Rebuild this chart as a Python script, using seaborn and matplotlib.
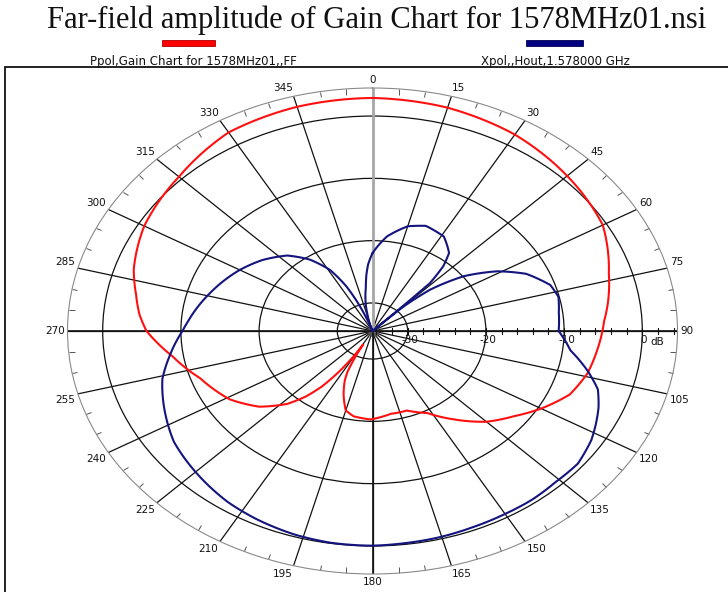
import numpy as np
import pandas as pd
import matplotlib
matplotlib.use("Agg")
import matplotlib.pyplot as plt
from matplotlib.patches import Rectangle
import seaborn as sns

sns.set_theme(style="white")
plt.rcParams["font.family"] = ["DejaVu Sans"]

# ---------------- data ----------------
title = "Far-field amplitude of Gain Chart for 1578MHz01.nsi"
ppol_label = "Ppol,Gain Chart for 1578MHz01,,FF"
xpol_label = "Xpol,,Hout,1.578000 GHz"

ppol_angle = [0, 15, 30, 45, 60, 73, 81, 87, 90, 96,
              104, 112, 120, 127, 135, 144, 152, 161, 170, 181,
              190, 195, 200, 204, 206, 208, 209, 211, 213, 216,
              219, 223, 230, 239, 251, 261, 270, 275, 281, 288,
              300, 315, 330, 345, 360]
ppol_db = [2.9, 2.6, 1.9, 0.7, -0.5, -2.9, -4.0, -4.85, -5.1, -5.6,
           -6.2, -7.3, -9.6, -11.8, -13.9, -17.0, -19.6, -21.0, -21.0, -20.3,
           -20.6, -21.3, -23.7, -25.8, -27.2, -30.0, -32.0, -29.5, -27.0, -23.5,
           -21.0, -18.5, -15.6, -13.2, -11.2, -8.6, -5.6, -4.6, -3.7, -2.4,
           -0.8, 0.5, 2.3, 2.75, 2.9]

xpol_angle = [0, 7, 15, 22, 31, 38, 41, 43.7, 44.6, 45.3,
              48, 53, 59, 65, 72, 77, 83, 90, 97, 103,
              108, 113, 118, 122, 129, 136, 143, 150, 158, 166,
              173, 180, 189, 197, 206, 214, 224, 235, 243, 254,
              261, 270, 274, 286, 300, 309, 318, 325, 331, 335,
              338, 341, 346, 348, 350, 353, 355, 357, 360]
xpol_db = [-22.0, -19.2, -17.1, -16.3, -16.8, -18.6, -20.7, -23.9, -34.5, -29.0,
           -24.6, -19.9, -15.9, -12.8, -10.6, -10.1, -10.5, -10.7, -9.0, -6.3,
           -4.2, -3.1, -2.2, -1.5, -0.7, -0.8, -0.6, -0.6, -0.5, -0.3,
           -0.2, -0.05, -0.1, -0.35, -0.85, -1.4, -2.4, -3.5, -4.8, -6.55,
           -8.2, -10.2, -10.9, -12.8, -14.9, -16.4, -18.2, -20.5, -23.3, -26.6,
           -30.3, -34.5, -32.0, -30.5, -29.3, -27.5, -25.5, -23.8, -22.0]

ring_levels = [-30, -20, -10, 0]
ring_labels = ["-30", "-20", "-10", "0"]
angle_ticks = list(range(0, 360, 15))
minor_angle_ticks = list(range(0, 360, 5))
r_min, r_max = -34.5, 4.5
axis_tick_levels = list(range(-34, 5, 2))

RED = "#ff1010"
NAVY = "#14147e"

df_p = pd.DataFrame({"theta": np.deg2rad(ppol_angle), "db": ppol_db})
df_x = pd.DataFrame({"theta": np.deg2rad(xpol_angle), "db": xpol_db})

# ---------------- figure ----------------
W, H = 728, 592
fig = plt.figure(figsize=(W / 100, H / 100), dpi=100)
fig.patch.set_facecolor("white")

cx, cy = 372.5, 331
rx, ry = 305, 243
ax = fig.add_axes([(cx - rx) / W, (H - cy - ry) / H, 2 * rx / W, 2 * ry / H],
                  projection="polar")
ax.set_theta_zero_location("N")
ax.set_theta_direction(-1)
ax.set_ylim(r_min, r_max)
ax.set_aspect("auto")
ax.set_facecolor("white")

# grid
ax.set_yticks(ring_levels)
ax.set_yticklabels([])
ax.set_xticks(np.deg2rad(angle_ticks))
ax.set_xticklabels([])
ax.set_xticks(np.deg2rad(minor_angle_ticks), minor=True)
ax.grid(True, which="major", color="#111111", lw=0.9)
ax.grid(False, which="minor")
ax.spines["polar"].set_color("#8a8a8a")
ax.spines["polar"].set_linewidth(0.8)
ax.tick_params(axis="x", which="major", length=0)
ax.tick_params(axis="x", which="minor", length=4, width=0.7, color="#555555",
               direction="in", bottom=True, top=True)
ax.tick_params(axis="y", length=0)

# axes lines
ax.axvline(0, color="#a8a8a8", lw=2.0, zorder=2)
ax.axvline(np.pi, color="#111111", lw=1.2, zorder=2)
ax.axvline(np.pi / 2, color="#111111", lw=1.2, zorder=2)
ax.axvline(3 * np.pi / 2, color="#111111", lw=1.2, zorder=2)
ax.plot(np.full(len(axis_tick_levels), np.pi / 2), axis_tick_levels, ls="none",
        marker="|", ms=4, mew=0.8, color="#111111", zorder=2)

# curves
n_before = len(ax.lines)
sns.lineplot(data=df_p, x="theta", y="db", ax=ax, color=RED, lw=1.5,
             sort=False, estimator=None, zorder=4)
sns.lineplot(data=df_x, x="theta", y="db", ax=ax, color=NAVY, lw=1.5,
             sort=False, estimator=None, zorder=4)
for ln in ax.lines[n_before:]:
    ln._path._interpolation_steps = 30
ax.set_xlabel("")
ax.set_ylabel("")
ax.set_ylim(r_min, r_max)

# angle labels
for a in angle_ticks:
    t = np.deg2rad(a)
    s, c = np.sin(t), np.cos(t)
    ha = "left" if s > 0.1 else ("right" if s < -0.1 else "center")
    va = "bottom" if c > 0.1 else ("top" if c < -0.1 else "center")
    ax.annotate(str(a), xy=(t, r_max), xytext=(3 * s, 3 * c),
                textcoords="offset pixels", ha=ha, va=va, fontsize=7.5,
                color="#111111", annotation_clip=False)

# ring labels along 90 deg
for lv, lb in zip(ring_levels, ring_labels):
    ax.annotate(lb, xy=(np.pi / 2, lv), xytext=(-6 if lb != "0" else -2, -4),
                textcoords="offset pixels", ha="left", va="top", fontsize=7.5,
                color="#111111", annotation_clip=False)
ax.annotate("dB", xy=(np.pi / 2, 0), xytext=(8, -6), textcoords="offset pixels",
            ha="left", va="top", fontsize=7.5, color="#111111", annotation_clip=False)

# title and legend
fig.text(377 / W, 1 - 20 / H, title, ha="center", va="center", fontsize=22,
         family="Liberation Serif", color="#111111")
fig.add_artist(Rectangle((162 / W, 1 - 46 / H), 53 / W, 6 / H, transform=fig.transFigure,
                         facecolor="#ff0000", edgecolor="#b00000", lw=0.6))
fig.add_artist(Rectangle((526 / W, 1 - 46 / H), 57 / W, 6 / H, transform=fig.transFigure,
                         facecolor="#000080", edgecolor="#000050", lw=0.6))
fig.text(193 / W, 1 - 61 / H, ppol_label, ha="center", va="center", fontsize=8.5,
         color="#111111")
fig.text(555 / W, 1 - 61 / H, xpol_label, ha="center", va="center", fontsize=8.5,
         color="#111111")

# frame
fig.add_artist(Rectangle((5 / W, -0.05), 1.2, 1 - 67 / H + 0.05, transform=fig.transFigure,
                         facecolor="none", edgecolor="#111111", lw=1.3))

fig.savefig("out.png", dpi=100, facecolor="white")
